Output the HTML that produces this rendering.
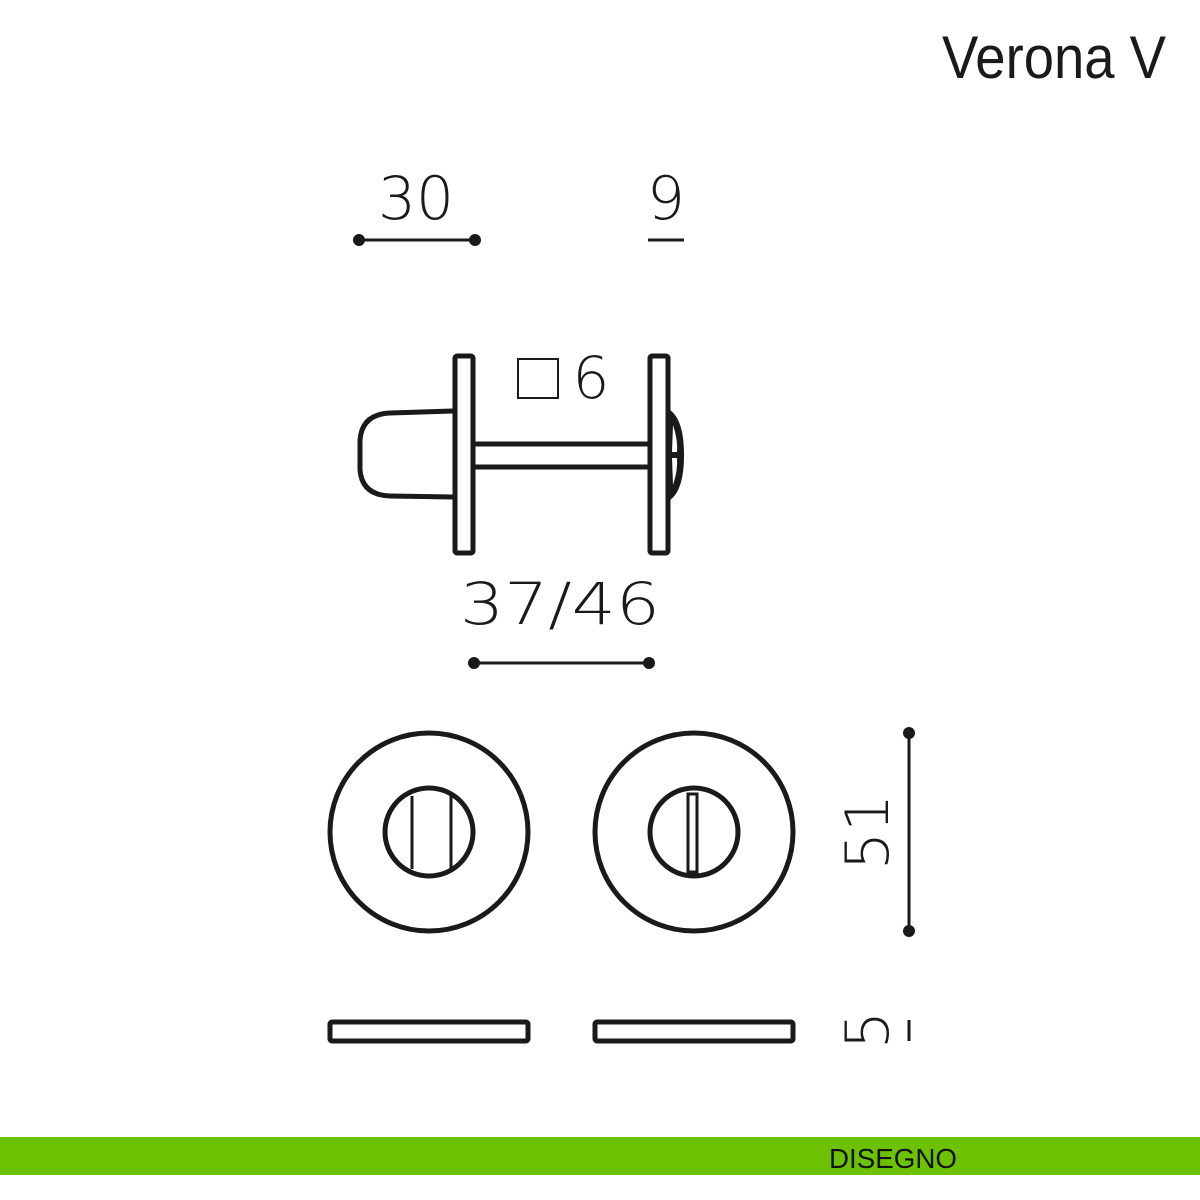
<!DOCTYPE html>
<html><head><meta charset="utf-8"><style>
html,body{margin:0;padding:0;background:#fff;width:1200px;height:1200px;overflow:hidden}
svg{display:block}
</style></head><body>
<svg width="1200" height="1200" viewBox="0 0 1200 1200" xmlns="http://www.w3.org/2000/svg">
<rect width="1200" height="1200" fill="#fff"/>
<text x="1166" y="78" text-anchor="end" font-family="Liberation Sans Narrow, Liberation Sans, sans-serif" font-size="60" fill="#1a1a1a" textLength="224" lengthAdjust="spacingAndGlyphs">Verona V</text>

<g font-family="DejaVu Sans, sans-serif" fill="#1a1a1a" font-weight="200">
<text x="416" y="219" text-anchor="middle" font-size="60" textLength="76" lengthAdjust="spacingAndGlyphs">30</text>
<text x="666" y="219" text-anchor="middle" font-size="60">9</text>
<text x="591" y="398" text-anchor="middle" font-size="58">6</text>
<text x="560" y="624" text-anchor="middle" font-size="58" textLength="200" lengthAdjust="spacingAndGlyphs">37/46</text>
<text transform="translate(888,832) rotate(-90)" text-anchor="middle" font-size="60">51</text>
<text transform="translate(888,1030) rotate(-90)" text-anchor="middle" font-size="60">5</text>
</g>

<g stroke="#1a1a1a" fill="none">
<line x1="359" y1="240" x2="475" y2="240" stroke-width="3"/>
<line x1="648" y1="240" x2="684" y2="240" stroke-width="3"/>
<line x1="474" y1="663" x2="649" y2="663" stroke-width="3"/>
<line x1="909" y1="733" x2="909" y2="931" stroke-width="3"/>
<line x1="909" y1="1020" x2="909" y2="1041" stroke-width="3"/>

<rect x="518" y="359" width="40" height="39" stroke-width="2"/>
<rect x="455" y="356" width="18" height="197" rx="2" stroke-width="5"/>
<rect x="650" y="356" width="18" height="197" rx="2" stroke-width="5"/>
<line x1="474" y1="444" x2="648" y2="444" stroke-width="5"/>
<line x1="474" y1="467" x2="648" y2="467" stroke-width="5"/>
<path d="M453,411 L390,413 Q362,414 360,440 L360,470 Q362,495 390,496 L453,497" stroke-width="5"/>

<circle cx="429" cy="832" r="99" stroke-width="5"/>
<circle cx="429" cy="832" r="44" stroke-width="5"/>
<line x1="412" y1="796" x2="412" y2="869" stroke-width="3"/>
<line x1="451" y1="796" x2="451" y2="869" stroke-width="3"/>
<circle cx="694" cy="832" r="99" stroke-width="5"/>
<circle cx="694" cy="832" r="44" stroke-width="5"/>
<rect x="688" y="794" width="9" height="78" stroke-width="3"/>

<rect x="330" y="1022" width="198" height="19" rx="2" stroke-width="5"/>
<rect x="595" y="1022" width="198" height="19" rx="2" stroke-width="5"/>
</g>
<path d="M670,410 Q684,420 684,455 Q684,490 670,500 Z" fill="#1a1a1a"/>
<path d="M673,425 Q678,440 677,452 L672,452 Z M673,485 Q678,470 677,458 L672,458 Z" fill="#fff"/>

<g fill="#1a1a1a">
<circle cx="359" cy="240" r="6"/><circle cx="475" cy="240" r="6"/>
<circle cx="474" cy="663" r="6"/><circle cx="649" cy="663" r="6"/>
<circle cx="909" cy="733" r="6"/><circle cx="909" cy="931" r="6"/>
</g>

<rect x="0" y="1137" width="1200" height="38" fill="#6cc200"/>
<text x="829" y="1168" font-family="Liberation Sans, sans-serif" font-size="28" fill="#111" textLength="128" lengthAdjust="spacingAndGlyphs">DISEGNO</text>
</svg>
</body></html>
